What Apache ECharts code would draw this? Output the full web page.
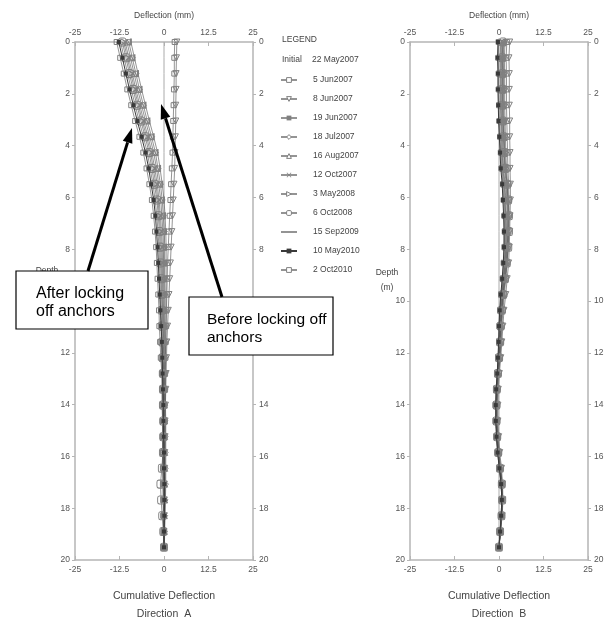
<!DOCTYPE html>
<html>
<head>
<meta charset="utf-8">
<title>Cumulative Deflection</title>
<script src="https://cdn.jsdelivr.net/npm/echarts/dist/echarts.min.js"></script>
</head>
<body style="margin:0;background:#fff">
<div id="main" style="width:609px;height:620px"></div>
<script>
// readings every 2 ft (m)
var depth = [0,0.61,1.22,1.83,2.44,3.05,3.66,4.27,4.88,5.49,6.10,6.71,7.32,7.92,8.53,9.14,9.75,10.36,10.97,11.58,12.19,12.80,13.41,14.02,14.63,15.24,15.85,16.46,17.07,17.68,18.29,18.90,19.51];
var dates = ['5 Jun2007','8 Jun2007','19 Jun2007','18 Jul2007','16 Aug2007','12 Oct2007','3 May2008','6 Oct2008','15 Sep2009','10 May2010','2 Oct2010'];
var initial = [0,0,0,0,0,0,0,0,0,0,0,0,0,0,0,0,0,0,0,0,0,0,0,0,0,0,0,0,0,0,0,0,0];

// Direction A (mm)
var a_jun05 = [3.0,2.9,2.9,2.8,2.7,2.6,2.5,2.4,2.2,2.0,1.8,1.6,1.4,1.2,1.0,0.9,0.8,0.7,0.6,0.5,0.4,0.3,0.3,0.2,0.2,0.1,0.1,0.1,0.0,0.0,0.0,0.0,0.0];
var a_jun08 = [3.6,3.5,3.4,3.4,3.3,3.3,3.2,3.1,3.0,2.8,2.6,2.4,2.2,2.0,1.8,1.6,1.4,1.2,1.0,0.8,0.7,0.6,0.5,0.4,0.3,0.3,0.2,0.2,0.1,0.1,0.1,0.0,0.0];
var a_jun19 = [-9.3,-8.3,-7.3,-6.3,-5.2,-4.1,-2.9,-1.8,-1.1,-0.5,0.0,0.3,0.5,0.6,0.6,0.6,0.6,0.6,0.5,0.5,0.4,0.4,0.4,0.4,0.5,0.5,0.5,0.5,0.5,0.4,0.3,0.2,0.1];
var a_jul18 = [-9.9,-8.9,-7.9,-6.9,-5.8,-4.7,-3.5,-2.4,-1.7,-1.0,-0.5,-0.2,0.1,0.2,0.2,0.2,0.3,0.3,0.2,0.3,0.2,0.2,0.2,0.2,0.3,0.3,0.3,0.3,0.4,0.3,0.2,0.1,0.1];
var a_aug16 = [-10.4,-9.4,-8.4,-7.4,-6.3,-5.2,-4.0,-2.9,-2.1,-1.5,-0.9,-0.6,-0.3,-0.2,-0.1,-0.1,0.0,0.0,0.0,0.1,0.0,0.1,0.1,0.1,0.2,0.2,0.2,0.2,0.2,0.2,0.1,0.1,0.0];
var a_oct12 = [-10.9,-9.9,-8.9,-7.9,-6.8,-5.7,-4.5,-3.4,-2.6,-1.9,-1.4,-1.0,-0.7,-0.5,-0.4,-0.4,-0.3,-0.2,-0.2,-0.1,-0.2,-0.1,-0.1,-0.1,0.0,0.0,0.0,0.0,0.1,0.1,0.1,0.0,0.0];
var a_may08 = [-11.3,-10.3,-9.3,-8.3,-7.2,-6.1,-4.9,-3.8,-3.0,-2.3,-1.7,-1.3,-1.0,-0.8,-0.7,-0.6,-0.5,-0.4,-0.4,-0.3,-0.3,-0.2,-0.2,-0.2,-0.1,-0.1,-0.1,-0.1,0.0,0.0,0.0,0.0,0.0];
var a_oct08 = [-11.7,-10.7,-9.7,-8.7,-7.6,-6.5,-5.3,-4.2,-3.4,-2.7,-2.0,-1.6,-1.3,-1.1,-1.0,-0.8,-0.7,-0.6,-0.6,-0.5,-0.4,-0.3,-0.3,-0.3,-0.2,-0.2,-0.3,-0.6,-1.0,-0.8,-0.5,-0.2,0.0];
var a_sep09 = [-12.2,-11.2,-10.2,-9.2,-8.1,-7.0,-5.8,-4.7,-3.9,-3.1,-2.5,-2.0,-1.7,-1.4,-1.3,-1.1,-1.0,-0.9,-0.8,-0.7,-0.6,-0.5,-0.5,-0.5,-0.4,-0.4,-0.4,-0.4,-0.2,-0.2,-0.1,-0.1,0.0];
var a_may10 = [-12.7,-11.7,-10.7,-9.7,-8.6,-7.5,-6.3,-5.2,-4.3,-3.6,-2.9,-2.4,-2.1,-1.8,-1.6,-1.4,-1.2,-1.0,-0.8,-0.6,-0.5,-0.4,-0.3,-0.2,-0.2,-0.1,0.0,0.0,0.1,0.1,0.1,0.0,0.0];
var a_oct10 = [-13.3,-12.3,-11.3,-10.3,-9.2,-8.1,-6.9,-5.8,-4.9,-4.1,-3.4,-2.9,-2.5,-2.2,-2.0,-1.8,-1.6,-1.4,-1.3,-1.1,-0.9,-0.6,-0.5,-0.5,-0.4,-0.4,-0.4,-0.3,-0.3,-0.2,-0.2,-0.1,0.0];

// Direction B (mm)
var b_jun05 = [2.2,2.0,2.1,2.1,2.1,2.2,2.3,2.4,2.5,2.7,2.8,2.8,2.7,2.6,2.3,1.9,1.5,1.1,0.8,0.6,0.3,-0.1,-0.4,-0.5,-0.5,-0.3,0.0,0.5,0.9,1.0,0.8,0.4,0.0];
var b_jun08 = [3.0,2.8,2.9,2.9,2.9,3.0,3.0,3.1,3.1,3.2,3.2,3.1,3.0,2.9,2.7,2.3,1.9,1.4,1.1,0.8,0.5,0.1,-0.2,-0.3,-0.3,-0.1,0.2,0.7,1.0,1.1,0.9,0.4,0.0];
var b_jun19 = [1.7,1.5,1.6,1.6,1.6,1.7,1.8,1.9,2.1,2.4,2.5,2.6,2.5,2.4,2.2,1.8,1.3,0.9,0.6,0.5,0.2,-0.2,-0.5,-0.6,-0.6,-0.4,-0.1,0.4,0.8,1.0,0.8,0.4,0.0];
var b_jul18 = [1.4,1.2,1.3,1.3,1.3,1.4,1.5,1.6,1.8,2.2,2.4,2.5,2.5,2.3,2.0,1.6,1.1,0.8,0.5,0.4,0.1,-0.3,-0.6,-0.7,-0.7,-0.5,-0.2,0.3,0.8,0.9,0.7,0.4,0.0];
var b_aug16 = [1.2,1.0,1.1,1.1,1.1,1.2,1.3,1.4,1.6,2.0,2.2,2.3,2.3,2.2,1.9,1.5,1.1,0.7,0.5,0.3,0.1,-0.3,-0.6,-0.7,-0.7,-0.5,-0.2,0.3,0.8,0.9,0.7,0.4,0.0];
var b_oct12 = [0.9,0.7,0.8,0.8,0.8,0.9,1.0,1.1,1.3,1.7,1.9,2.0,2.1,2.0,1.7,1.4,0.9,0.6,0.4,0.2,0.0,-0.4,-0.7,-0.8,-0.8,-0.6,-0.3,0.2,0.7,0.9,0.7,0.3,0.0];
var b_may08 = [0.7,0.5,0.6,0.6,0.6,0.7,0.8,0.9,1.1,1.5,1.7,1.9,1.9,1.9,1.6,1.3,0.8,0.5,0.3,0.2,-0.1,-0.4,-0.7,-0.8,-0.8,-0.6,-0.3,0.2,0.7,0.9,0.7,0.3,0.0];
var b_oct08 = [1.1,0.9,1.0,1.0,1.0,1.1,1.3,1.5,1.8,2.3,2.6,2.8,2.8,2.6,2.2,1.7,1.2,0.8,0.5,0.3,0.0,-0.3,-0.6,-0.7,-0.7,-0.5,-0.2,0.3,0.8,0.9,0.7,0.3,0.0];
var b_sep09 = [0.5,0.3,0.4,0.4,0.4,0.5,0.6,0.7,0.9,1.3,1.5,1.7,1.7,1.7,1.5,1.2,0.7,0.4,0.2,0.1,-0.1,-0.4,-0.7,-0.8,-0.8,-0.6,-0.3,0.2,0.6,0.8,0.6,0.3,0.0];
var b_may10 = [-0.3,-0.4,-0.3,-0.3,-0.2,-0.1,0.1,0.3,0.5,0.9,1.1,1.3,1.4,1.4,1.2,0.9,0.5,0.2,0.0,-0.1,-0.3,-0.5,-0.8,-0.9,-0.9,-0.7,-0.4,0.1,0.6,0.8,0.6,0.3,0.0];
var b_oct10 = [-0.1,-0.2,-0.1,-0.1,0.0,0.1,0.3,0.5,0.7,1.1,1.3,1.5,1.6,1.5,1.3,1.0,0.6,0.3,0.1,0.0,-0.2,-0.5,-0.8,-0.9,-0.9,-0.7,-0.4,0.1,0.6,0.8,0.6,0.3,0.0];

var valsA = [a_jun05,a_jun08,a_jun19,a_jul18,a_aug16,a_oct12,a_may08,a_oct08,a_sep09,a_may10,a_oct10];
var valsB = [b_jun05,b_jun08,b_jun19,b_jul18,b_aug16,b_oct12,b_may08,b_oct08,b_sep09,b_may10,b_oct10];

var FONT = '"Liberation Sans", Arial, sans-serif';
var GREY = '#808080';

// marker per reading date
var marks = [
    {symbol: 'rect', size: 5},
    {symbol: 'triangle', size: 6, rotate: 180},
    {symbol: 'path://M0,0h1v10h-1z', size: [2, 7], fill: true},
    {symbol: 'diamond', size: 6},
    {symbol: 'triangle', size: 6},
    {symbol: 'path://M0,1L1,0L5,4L9,0L10,1L6,5L10,9L9,10L5,6L1,10L0,9L4,5Z', size: 6, fill: true},
    {symbol: 'triangle', size: 6, rotate: -90},
    {symbol: 'roundRect', size: [7, 8]},
    {symbol: 'none', size: 0},
    {symbol: 'rect', size: 4, fill: true, dark: true},
    {symbol: 'rect', size: 5}
];

function toPoints(v) {
    return v.map(function (x, k) { return [x, depth[k]]; });
}

function buildSeries(vals, axis) {
    var list = [{
        name: 'Initial', type: 'line', xAxisIndex: axis, yAxisIndex: axis,
        data: toPoints(initial), symbol: 'none',
        lineStyle: {color: '#aaa', width: 1}, z: 1
    }];
    vals.forEach(function (v, i) {
        var m = marks[i];
        var c = m.dark ? '#3a3a3a' : GREY;
        list.push({
            name: dates[i], type: 'line', xAxisIndex: axis, yAxisIndex: axis,
            data: toPoints(v),
            symbol: m.symbol, symbolSize: m.size, symbolRotate: m.rotate || 0,
            lineStyle: {color: m.dark ? '#3a3a3a' : 'rgba(90,90,90,0.65)', width: 1},
            itemStyle: {
                color: m.fill ? c : 'rgba(255,255,255,0)',
                borderColor: c, borderWidth: m.fill ? 0 : 1
            },
            z: m.dark ? 4 : 2
        });
    });
    return list;
}

function xAxisDef(grid, pos) {
    return {
        type: 'value', gridIndex: grid, position: pos,
        min: -25, max: 25, interval: 12.5,
        name: pos === 'top' ? 'Deflection (mm)' : '',
        nameLocation: 'middle', nameGap: 22,
        nameTextStyle: {color: '#444', fontSize: 8.5, fontFamily: FONT},
        axisLine: {onZero: false, lineStyle: {color: '#b5b5b5', width: 1.5}},
        axisTick: {inside: true, length: 4, lineStyle: {color: '#b5b5b5'}},
        axisLabel: {color: '#555', fontSize: 8.5, fontFamily: FONT, margin: 5},
        splitLine: {show: false}
    };
}

function yAxisDef(grid, pos) {
    return {
        type: 'value', gridIndex: grid, position: pos, inverse: true,
        min: 0, max: 20, interval: 2,
        axisLine: {onZero: false, lineStyle: {color: '#b5b5b5', width: 1.5}},
        axisTick: {length: 3, lineStyle: {color: '#b5b5b5'}},
        axisLabel: {color: '#555', fontSize: 8.5, fontFamily: FONT, margin: pos === 'left' ? 5 : 6},
        splitLine: {show: false}
    };
}

function label(text, x, y, size, align, z) {
    return {
        type: 'text', z: z || 10,
        style: {text: text, x: x, y: y, font: size + 'px ' + FONT, fill: '#444',
            textAlign: align || 'center', textVerticalAlign: 'middle'}
    };
}

function box(x, y, w, h, lines, tx, ty, size) {
    return [
        {type: 'rect', z: 60, shape: {x: x, y: y, width: w, height: h},
            style: {fill: '#fff', stroke: '#000', lineWidth: 1.2}},
        {type: 'text', z: 61, style: {text: lines, x: tx, y: ty, font: size + 'px ' + FONT,
            fill: '#000', lineHeight: 18, textAlign: 'left', textVerticalAlign: 'top'}}
    ];
}

function arrow(x1, y1, x2, y2) {
    var dx = x2 - x1, dy = y2 - y1, len = Math.sqrt(dx * dx + dy * dy);
    var ux = dx / len, uy = dy / len, hl = 15, hw = 5;
    var bx = x2 - ux * hl, by = y2 - uy * hl;
    return [
        {type: 'line', z: 62, shape: {x1: x1, y1: y1, x2: bx, y2: by},
            style: {stroke: '#000', lineWidth: 3}},
        {type: 'polygon', z: 62, shape: {points: [[x2, y2], [bx - uy * hw, by + ux * hw], [bx + uy * hw, by - ux * hw]]},
            style: {fill: '#000'}}
    ];
}

var chart = echarts.init(document.getElementById('main'));

// legend icons: outlined like the plot markers; the unmarked date keeps only its line
var legendData = dates.map(function (d, i) {
    var m = marks[i];
    if (m.symbol === 'none') return {name: d, itemStyle: {color: 'rgba(0,0,0,0)', borderWidth: 0}};
    if (m.fill) return d;
    return {name: d, itemStyle: {color: '#fff', borderColor: GREY, borderWidth: 1}};
});

var graphics = [
    label('LEGEND', 282, 40, 8.5, 'left'),
    label('Initial', 282, 60, 8.5, 'left'),
    label('22 May2007', 312, 60, 8.5, 'left'),
    label('Depth', 47, 271, 8.5, 'center', 5),
    label('Depth', 387, 273, 8.5),
    label('(m)', 387, 288, 8.5),
    label('Cumulative Deflection', 164, 596, 10.5),
    label('Direction  A', 164, 614, 10.5),
    label('Cumulative Deflection', 499, 596, 10.5),
    label('Direction  B', 499, 614, 10.5)
].concat(
    box(16, 271, 132, 58, 'After locking\noff anchors', 36, 285, 16),
    box(189, 297, 144, 58, 'Before locking off\nanchors', 207, 311, 15.5),
    arrow(88, 271, 132, 128),
    arrow(222, 297, 161, 104)
);

chart.setOption({
    animation: false,
    grid: [
        {left: 75, top: 42, width: 178, height: 518},
        {left: 410, top: 42, width: 178, height: 518}
    ],
    xAxis: [xAxisDef(0, 'top'), xAxisDef(0, 'bottom'), xAxisDef(1, 'top'), xAxisDef(1, 'bottom')],
    yAxis: [yAxisDef(0, 'left'), yAxisDef(0, 'right'), yAxisDef(1, 'left'), yAxisDef(1, 'right')],
    legend: {
        data: legendData, orient: 'vertical', left: 280, top: 75, padding: 0,
        itemWidth: 16, itemHeight: 6, itemGap: 9,
        textStyle: {color: '#444', fontSize: 8.5, fontFamily: FONT, lineHeight: 10, padding: [0, 0, 0, 11]},
        selectedMode: false
    },
    series: buildSeries(valsA, 0).concat(buildSeries(valsB, 2)),
    graphic: graphics
});
</script>
</body>
</html>
